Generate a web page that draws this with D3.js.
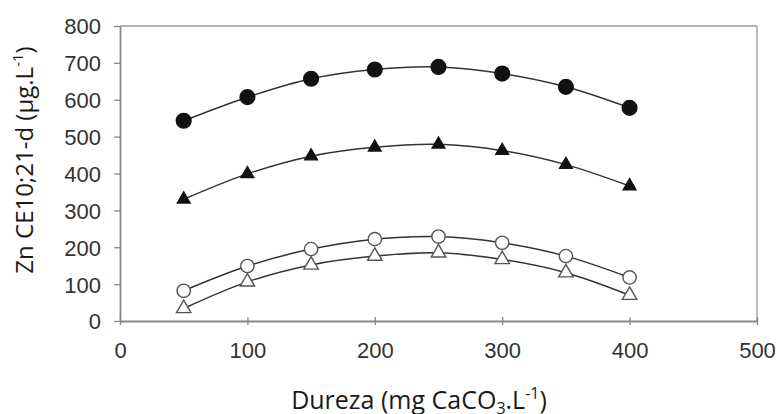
<!DOCTYPE html>
<html>
<head>
<meta charset="utf-8">
<script src="https://cdn.jsdelivr.net/npm/d3@7"></script>
<style>
  body { margin: 0; background: #fff; }
  .tick text { font-family: "Liberation Sans", Arial, sans-serif; font-size: 22px; fill: #333; }
  .title { font-family: "Open Sans", "Noto Sans", sans-serif; fill: #1a1a1a; }
</style>
</head>
<body>
<script>
// dureza (mg CaCO3/L)
var dureza = [50, 100, 150, 200, 250, 300, 350, 400];
var filledCircle = [543, 607, 657, 682, 689, 671, 635, 578];
var filledTriangle = [330, 399, 447, 471, 479, 462, 424, 366];
var openCircle = [82, 149, 195, 222, 229, 212, 176, 118];
var openTriangle = [34, 106, 152, 176, 185, 167, 131, 70];
var xTicks = [0, 100, 200, 300, 400, 500];
var yTicks = [0, 100, 200, 300, 400, 500, 600, 700, 800];

var W = 778, H = 414;
var margin = { top: 26, right: 21, bottom: 93, left: 120 };
var width = W - margin.left - margin.right,
    height = H - margin.top - margin.bottom;

var svg = d3.select("body").append("svg")
    .attr("width", W).attr("height", H);
var g = svg.append("g")
    .attr("transform", "translate(" + margin.left + "," + margin.top + ")");

var x = d3.scaleLinear().domain([0, 500]).range([0, width]);
var y = d3.scaleLinear().domain([0, 800]).range([height, 0]);

// frame top / right
g.append("line").attr("x1", 0).attr("x2", width).attr("y1", 0).attr("y2", 0)
    .attr("stroke", "#9a9a9a").attr("stroke-width", 1.3);
g.append("line").attr("x1", width).attr("x2", width).attr("y1", 0).attr("y2", height)
    .attr("stroke", "#9a9a9a").attr("stroke-width", 1.3);

var yAxis = g.append("g")
    .call(d3.axisLeft(y).tickValues(yTicks).tickSize(6).tickPadding(13).tickSizeOuter(0));
var xAxis = g.append("g").attr("transform", "translate(0," + height + ")")
    .call(d3.axisBottom(x).tickValues(xTicks).tickSize(4).tickPadding(17).tickSizeOuter(0));
xAxis.selectAll(".tick line").attr("y1", -4);
[xAxis, yAxis].forEach(function (a) {
    a.select(".domain").attr("stroke", "#888").attr("stroke-width", 1.8);
    a.selectAll(".tick line").attr("stroke", "#888").attr("stroke-width", 1.3);
});
yAxis.selectAll(".tick text").attr("dy", "0.36em");

var line = d3.line()
    .x(function (d) { return x(d[0]); })
    .y(function (d) { return y(d[1]); })
    .curve(d3.curveCatmullRom.alpha(0.5));

var series = [
    { vals: filledCircle, shape: d3.symbolCircle, size: 170, fill: "#111", stroke: "#111" },
    { vals: filledTriangle, shape: d3.symbolTriangle, size: 70, fill: "#111", stroke: "#111" },
    { vals: openCircle, shape: d3.symbolCircle, size: 140, fill: "#fff", stroke: "#555" },
    { vals: openTriangle, shape: d3.symbolTriangle, size: 90, fill: "#fff", stroke: "#555" }
];

series.forEach(function (s) {
    var pts = dureza.map(function (d, i) { return [d, s.vals[i]]; });
    g.append("path").datum(pts)
        .attr("d", line).attr("fill", "none")
        .attr("stroke", "#333").attr("stroke-width", 1.5);
    g.selectAll(null).data(pts).enter().append("path")
        .attr("d", d3.symbol().type(s.shape).size(s.size))
        .attr("transform", function (d) { return "translate(" + x(d[0]) + "," + y(d[1]) + ")"; })
        .attr("fill", s.fill).attr("stroke", s.stroke).attr("stroke-width", 1.4);
});

// x title
var xt = svg.append("text").attr("class", "title")
    .attr("x", 419).attr("y", 409).attr("text-anchor", "middle")
    .style("font-size", "25px");
xt.append("tspan").text("Dureza (mg CaCO");
xt.append("tspan").attr("dy", 5).style("font-size", "16px").text("3");
xt.append("tspan").attr("dy", -5).text(".L");
xt.append("tspan").attr("dy", -10).style("font-size", "16px").text("-1");
xt.append("tspan").attr("dy", 10).text(")");

// y title
var yt = svg.append("text").attr("class", "title")
    .attr("transform", "translate(33,160) rotate(-90)")
    .attr("text-anchor", "middle")
    .style("font-size", "24px");
yt.append("tspan").text("Zn CE10;21-d (µg.L");
yt.append("tspan").attr("dy", -10).style("font-size", "15px").text("-1");
yt.append("tspan").attr("dy", 10).text(")");
</script>
</body>
</html>
